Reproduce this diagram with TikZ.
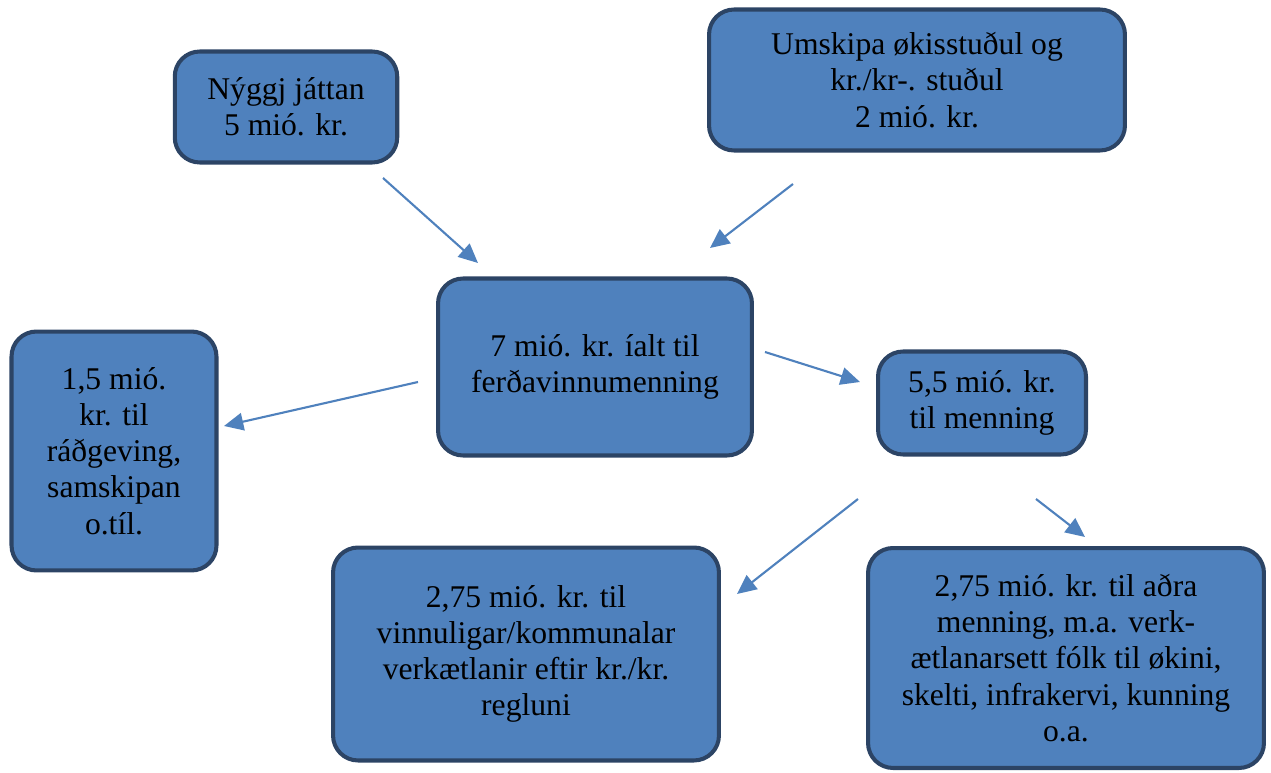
\documentclass[tikz,border=0pt]{standalone}
\usepackage{fontspec}
\setmainfont{Liberation Serif}
\usetikzlibrary{arrows.meta}
\definecolor{boxblue}{HTML}{4F81BD}
\definecolor{boxline}{HTML}{2C4465}
\begin{document}
\begin{tikzpicture}[x=0.02cm, y=-0.02cm,
    budget/.style={draw=boxline, line width=2.3pt, fill=boxblue, rounded corners=0.5cm,
        align=center, inner sep=0pt, font=\fontsize{18}{20.6}\selectfont},
    flow/.style={draw=boxblue, line width=1.2pt, -{Triangle[length=11pt,width=10pt]}}]
    \useasboundingbox (0,0) rectangle (1271,773);
    % boxes
    \node[budget, minimum width=4.45cm, minimum height=2.22cm] (nyggj) at (286,107) {Nýggj játtan\\5 mió. kr.};
    \node[budget, minimum width=8.32cm, minimum height=2.82cm] (umskipa) at (917,80) {Umskipa økisstuðul og\\kr./kr-. stuðul\\2 mió. kr.};
    \node[budget, minimum width=6.28cm, minimum height=3.54cm] (ialt) at (595,367) {7 mió. kr. íalt til\\ferðavinnumenning};
    \node[budget, minimum width=4.1cm, minimum height=4.78cm] (radgeving) at (114,451) {1,5 mió.\\kr. til\\ráðgeving,\\samskipan\\o.tíl.};
    \node[budget, minimum width=4.16cm, minimum height=2.06cm] (menning) at (982,403) {5,5 mió. kr.\\til menning};
    \node[budget, minimum width=7.72cm, minimum height=4.26cm] (vinnuligar) at (526,654) {2,75 mió. kr. til\\vinnuligar/kommunalar\\verkætlanir eftir kr./kr.\\regluni};
    \node[budget, minimum width=7.92cm, minimum height=4.4cm] (adra) at (1066,658) {2,75 mió. kr. til aðra\\menning, m.a. verk-\\ætlanarsett fólk til økini,\\skelti, infrakervi, kunning\\o.a.};
    % free standing arrows
    \coordinate (a1) at (383,178); \coordinate (b1) at (478,263);
    \coordinate (a2) at (793,184); \coordinate (b2) at (710,248);
    \coordinate (a3) at (418,382); \coordinate (b3) at (224,426);
    \coordinate (a4) at (765,352); \coordinate (b4) at (860,382);
    \coordinate (a5) at (858,499); \coordinate (b5) at (737,594);
    \coordinate (a6) at (1036,499); \coordinate (b6) at (1085,537);
    \foreach \i in {1,...,6} {
        \draw[flow] (a\i) -- (b\i);
    }
\end{tikzpicture}
\end{document}
